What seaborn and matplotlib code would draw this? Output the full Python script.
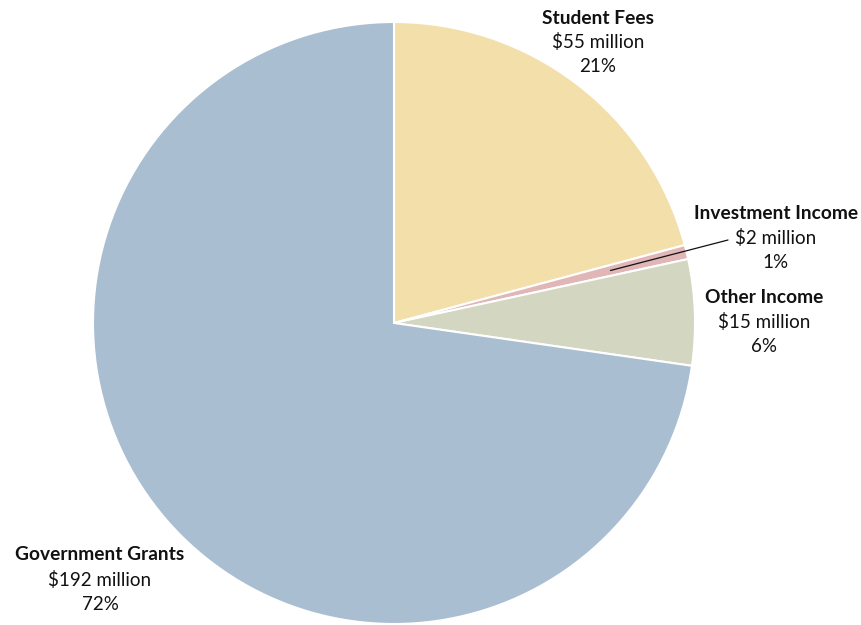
import matplotlib
matplotlib.use("Agg")
import matplotlib.pyplot as plt
import seaborn as sns
import numpy as np

# revenue sources (millions)
sources = ["Student Fees", "Investment Income", "Other Income", "Government Grants"]
amounts = [55, 2, 15, 192]
amount_labels = ["$55 million", "$2 million", "$15 million", "$192 million"]
pct_labels = ["21%", "1%", "6%", "72%"]
colors = ["#F2DFAA", "#E0B6B7", "#D3D6C0", "#AABED1"]

sns.set_theme(style="white")
plt.rcParams["font.family"] = ["Lato", "DejaVu Sans"]

fig = plt.figure(figsize=(8.62, 6.25), dpi=100)
ax = fig.add_axes([0, 0, 1, 1])

cx, cy, r = 394, 302, 301
wedges, _ = ax.pie(amounts, colors=colors, startangle=90, counterclock=False,
                   center=(cx, cy), radius=r, frame=True,
                   wedgeprops=dict(edgecolor="white", linewidth=1.5))
ax.set_xlim(0, 862)
ax.set_ylim(0, 625)
ax.set_aspect("equal")
ax.axis("off")

# label anchor positions (pixel coords, y up)
label_pos = [(598, 607), (776, 411), (764, 327), (100, 70)]
for i, (x, y) in enumerate(label_pos):
    ax.text(x, y, sources[i], ha="center", va="center", fontsize=13.8,
            fontweight="bold", color="#111111")
    ax.text(x, y - 24.5, amount_labels[i], ha="center", va="center",
            fontsize=13.5, color="#111111")
    ax.text(x, y - 49, pct_labels[i], ha="center", va="center",
            fontsize=13.5, color="#111111")

# leader line for the small slice
theta = np.deg2rad(90 - 360 * (amounts[0] + amounts[1] / 2) / sum(amounts))
p = (cx + 0.74 * r * np.cos(theta), cy + 0.74 * r * np.sin(theta))
ax.plot([p[0], 728], [p[1], 385], color="#111111", lw=0.9)

fig.savefig("out.png", dpi=100)
